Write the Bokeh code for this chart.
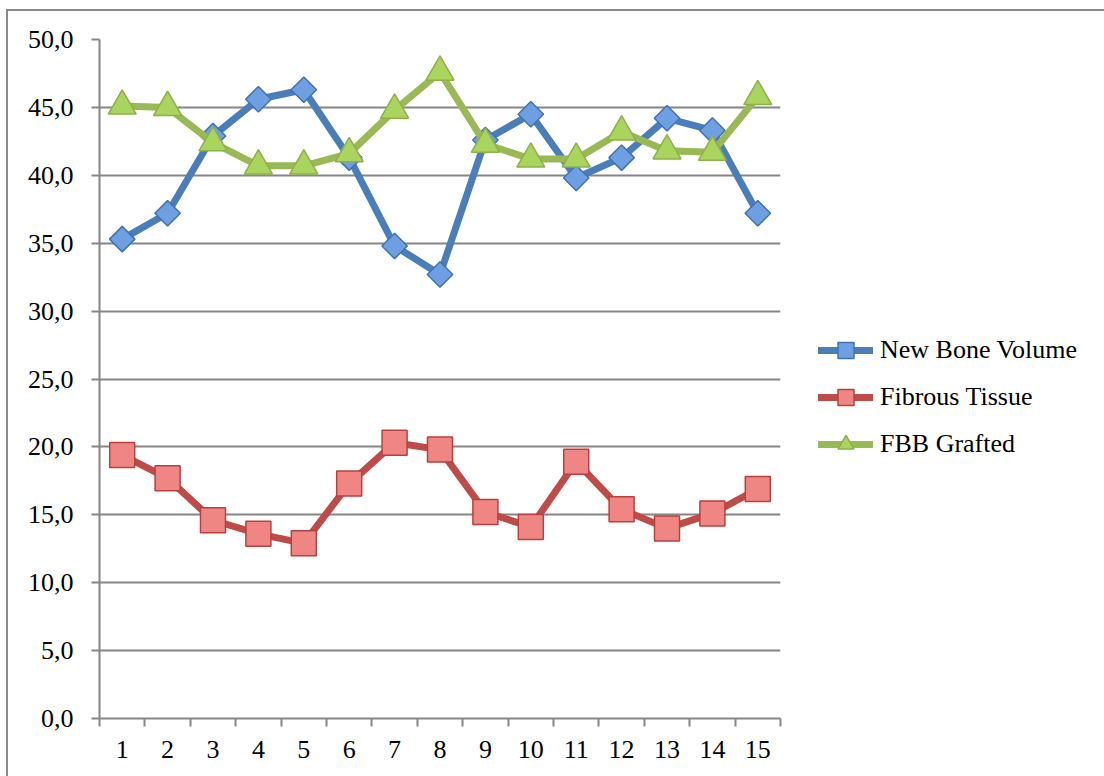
from bokeh.plotting import figure
from bokeh.models import FixedTicker, Legend, LegendItem, Range1d
from bokeh.embed import file_html
from bokeh.resources import INLINE

categories = [str(i) for i in range(1, 16)]
new_bone = [35.3, 37.2, 42.9, 45.6, 46.3, 41.3, 34.8, 32.7, 42.6, 44.5, 39.8, 41.3, 44.2, 43.3, 37.2]
fibrous = [19.4, 17.7, 14.6, 13.6, 12.9, 17.3, 20.3, 19.8, 15.2, 14.1, 18.9, 15.4, 14.0, 15.1, 16.9]
fbb = [45.1, 45.0, 42.4, 40.7, 40.7, 41.6, 44.8, 47.6, 42.3, 41.2, 41.2, 43.2, 41.8, 41.7, 45.8]
y_ticks = [0, 5, 10, 15, 20, 25, 30, 35, 40, 45, 50]
y_tick_labels = ["0,0", "5,0", "10,0", "15,0", "20,0", "25,0", "30,0", "35,0", "40,0", "45,0", "50,0"]
series_names = ["New Bone Volume", "Fibrous Tissue", "FBB Grafted"]

FONT = "Liberation Serif"
GRAY = "#868686"

x = list(range(1, len(categories) + 1))

p = figure(frame_width=681, frame_height=679, output_backend="svg", toolbar_location=None,
           x_range=Range1d(0.5, len(categories) + 0.5), y_range=Range1d(0, 50),
           min_border_left=91, min_border_right=312, min_border_top=28, min_border_bottom=58)
p.styles = {"margin-left": "6px", "margin-top": "9px", "border": "2.5px solid #8a8a8a"}
p.outline_line_color = None
p.background_fill_color = "white"
p.border_fill_color = "white"

# axes
p.yaxis.ticker = FixedTicker(ticks=y_ticks)
p.yaxis.major_label_overrides = {t: l for t, l in zip(y_ticks, y_tick_labels)}
p.yaxis.major_label_text_font = FONT
p.yaxis.major_label_text_font_size = "26px"
p.yaxis.major_label_text_color = "black"
p.yaxis.major_tick_out = 8
p.yaxis.major_tick_in = 0
p.yaxis.minor_tick_line_color = None
p.yaxis.axis_line_color = GRAY
p.yaxis.axis_line_width = 2
p.yaxis.major_tick_line_color = GRAY
p.yaxis.major_tick_line_width = 2
p.yaxis.major_label_standoff = 18

bounds = [i + 0.5 for i in range(0, len(categories) + 1)]
p.xaxis.ticker = FixedTicker(ticks=x, minor_ticks=bounds)
p.xaxis.major_label_overrides = {i: c for i, c in zip(x, categories)}
p.xaxis.major_label_text_font = FONT
p.xaxis.major_label_text_font_size = "26px"
p.xaxis.major_label_text_color = "black"
p.xaxis.major_tick_line_color = None
p.xaxis.major_tick_out = 0
p.xaxis.major_tick_in = 0
p.xaxis.minor_tick_out = 8
p.xaxis.minor_tick_in = 0
p.xaxis.minor_tick_line_color = GRAY
p.xaxis.minor_tick_line_width = 2
p.xaxis.axis_line_color = GRAY
p.xaxis.axis_line_width = 2
p.xaxis.major_label_standoff = 14

p.xgrid.visible = False
p.ygrid.ticker = FixedTicker(ticks=y_ticks)
p.ygrid.grid_line_color = GRAY
p.ygrid.grid_line_width = 2

# series
l1 = p.line(x, new_bone, line_color="#4A7EBB", line_width=7, line_cap="round", line_join="round")
m1 = p.scatter(x, new_bone, marker="square", angle=0.785398, size=18,
               fill_color="#6E9FE0", line_color="#3F73B8", line_width=1.5)
l2 = p.line(x, fibrous, line_color="#BE4B48", line_width=7, line_cap="round", line_join="round")
m2 = p.scatter(x, fibrous, marker="square", size=25,
               fill_color="#F08683", line_color="#B9403D", line_width=1.5)
l3 = p.line(x, fbb, line_color="#98B954", line_width=7, line_cap="round", line_join="round")
m3 = p.scatter(x, fbb, marker="triangle", size=28,
               fill_color="#A9D45E", line_color="#8DB049", line_width=1.5)

legend = Legend(items=[LegendItem(label=series_names[0], renderers=[l1, m1]),
                       LegendItem(label=series_names[1], renderers=[l2, m2]),
                       LegendItem(label=series_names[2], renderers=[l3, m3])],
                location=(38, 254))
legend.label_text_font = FONT
legend.label_text_font_size = "26px"
legend.label_text_color = "black"
legend.glyph_width = 55
legend.glyph_height = 40
legend.label_height = 40
legend.spacing = 7
legend.label_standoff = 7
legend.padding = 0
legend.margin = 0
legend.border_line_color = None
legend.background_fill_alpha = 0
p.add_layout(legend, "right")

open("out.html", "w").write(file_html(p, INLINE))
